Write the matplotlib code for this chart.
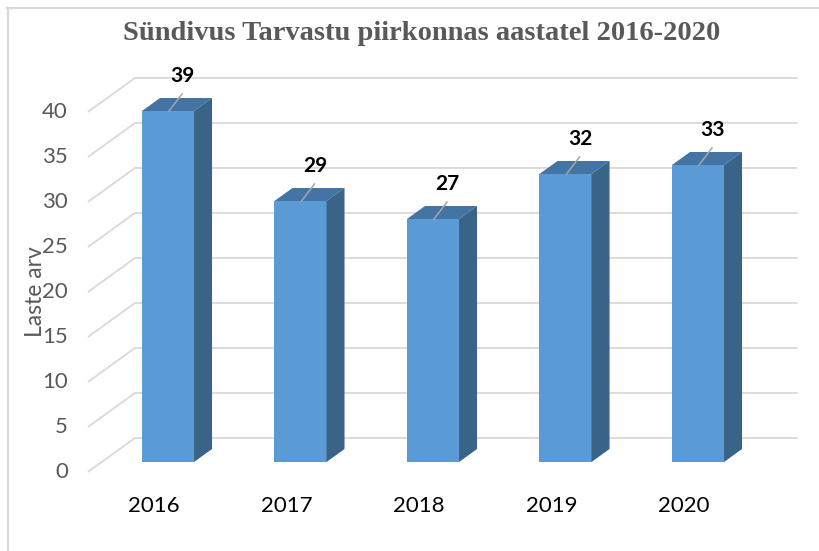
import matplotlib
matplotlib.use("Agg")
import matplotlib.pyplot as plt
from matplotlib.lines import Line2D

# -----------------------------
# DATA
# -----------------------------
years = ["2016", "2017", "2018", "2019", "2020"]
births = [39, 29, 27, 32, 33]
y_ticks = [0, 5, 10, 15, 20, 25, 30, 35, 40]

title = "Sündivus Tarvastu piirkonnas aastatel 2016-2020"
y_label = "Laste arv"

# -----------------------------
# STYLE / GEOMETRY
# -----------------------------
W, H = 820, 551
X_PX = 132.5          # pixels per category
Y_PX = 9.0            # pixels per unit
X0_PX = 168           # centre of first bar (px from left)
Y0_PX = 462           # bar base (px from top)

DX = 18 / X_PX        # bar depth, in data units
DY = 13 / Y_PX
D_FRONT = -0.77       # depth of the front edge of the side wall
D_BACK = 1.85         # depth of the back wall
BAR_W = 0.393

FRONT = "#5B9BD5"
TOP = "#4474A3"
SIDE = "#3A6388"
GRID = "#d9d9d9"
TXT = "#595959"

fig = plt.figure(figsize=(W / 100, H / 100), dpi=100)
ax = fig.add_axes([0, 0, 1, 1])
ax.set_xlim(-X0_PX / X_PX, (W - X0_PX) / X_PX)
ax.set_ylim(-(H - Y0_PX) / Y_PX, Y0_PX / Y_PX)
ax.axis("off")

# -----------------------------
# GRIDLINES (side wall + back wall)
# -----------------------------
x_left, x_right = -0.5, len(years) - 0.5
for v in y_ticks:
    fx, fy = x_left + D_FRONT * DX, v + D_FRONT * DY
    bx, by = x_left + D_BACK * DX, v + D_BACK * DY
    ex = x_right + D_BACK * DX
    ax.plot([fx, bx, ex], [fy, by, by], color=GRID, lw=1.3,
            solid_capstyle="butt", zorder=1)
    ax.annotate(str(v), (fx, fy), xytext=(-14.5, 0), textcoords="offset points",
                ha="right", va="center", fontsize=16, color=TXT,
                family="Lato")

# -----------------------------
# BARS
# -----------------------------
for i, v in enumerate(births):
    l, r = i - BAR_W / 2, i + BAR_W / 2
    ax.fill([l, r, r, l], [0, 0, v, v], color=FRONT, lw=0, zorder=3)
    ax.fill([l, r, r + DX, l + DX], [v, v, v + DY, v + DY],
            color=TOP, lw=0, zorder=3)
    ax.fill([r, r + DX, r + DX, r], [0, DY, v + DY, v],
            color=SIDE, lw=0, zorder=3)

    # leader line + value label
    ax.plot([i + 1 / X_PX, i + 14 / X_PX], [v, v + 17 / Y_PX],
            color="#a6a6a6", lw=1.1, zorder=4)
    ax.annotate(str(v), (i, v), xytext=(10.5, 25.5), textcoords="offset points",
                ha="center", va="center", fontsize=15, fontweight="bold",
                color="black", family="Lato", zorder=5)

    # category label on the front edge
    ax.annotate(years[i], (i + D_FRONT * DX, D_FRONT * DY), xytext=(0, -24.5),
                textcoords="offset points", ha="center", va="center",
                fontsize=16, color="black", family="Lato")

# -----------------------------
# TITLES
# -----------------------------
fig.text(422 / W, 1 - 33 / H, title, ha="center", va="center",
         fontsize=20.5, fontweight="bold", color=TXT, family="Liberation Serif")
fig.text(35 / W, 1 - 292 / H, y_label, ha="center", va="center", rotation=90,
         fontsize=16.5, color=TXT, family="Lato")

# chart frame (top and left edges visible)
fig.add_artist(Line2D([7 / W, 1], [1 - 8 / H, 1 - 8 / H], color=GRID, lw=1.6))
fig.add_artist(Line2D([8 / W, 8 / W], [0, 1 - 8 / H], color=GRID, lw=1.6))

fig.savefig("out.png", dpi=100)
